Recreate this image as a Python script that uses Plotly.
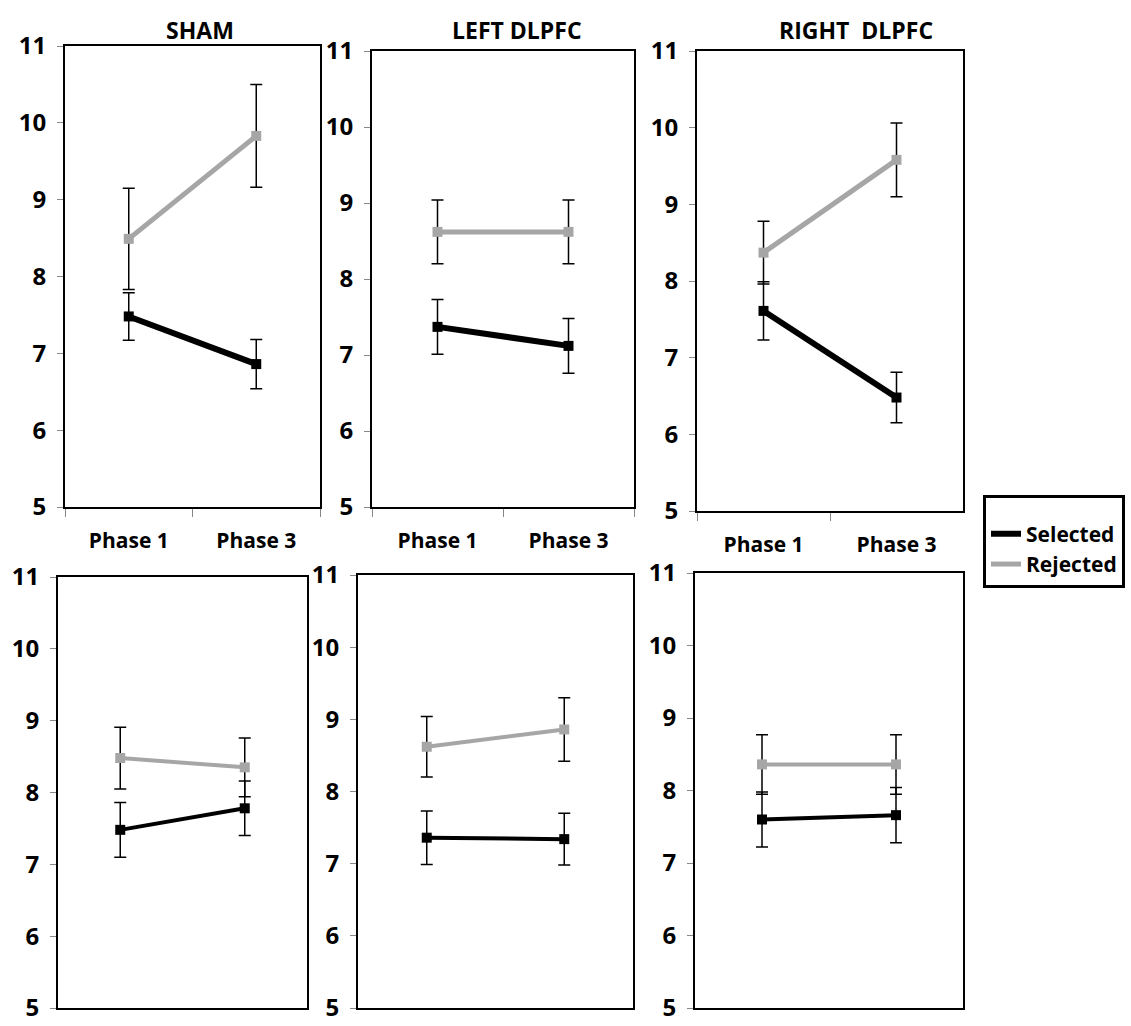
import plotly.graph_objects as go

# Category labels and panel titles
phases = ["Phase 1", "Phase 3"]
panel_titles = ["SHAM", "LEFT DLPFC", "RIGHT\u00a0 DLPFC"]

# Top row: mean scores and error half-widths per condition (SHAM, LEFT, RIGHT)
selected_row1 = [[7.48, 6.86], [7.37, 7.12], [7.61, 6.48]]
selected_row1_err = [[0.31, 0.32], [0.36, 0.36], [0.38, 0.33]]
rejected_row1 = [[8.49, 9.83], [8.62, 8.62], [8.37, 9.58]]
rejected_row1_err = [[0.66, 0.67], [0.42, 0.42], [0.41, 0.48]]

# Bottom row
selected_row2 = [[7.48, 7.78], [7.36, 7.34], [7.60, 7.66]]
selected_row2_err = [[0.38, 0.38], [0.37, 0.36], [0.38, 0.38]]
rejected_row2 = [[8.48, 8.35], [8.62, 8.86], [8.36, 8.36]]
rejected_row2_err = [[0.43, 0.41], [0.42, 0.44], [0.41, 0.41]]

y_ticks = [5, 6, 7, 8, 9, 10, 11]

W, H = 1131, 1026
SEL_COLOR = "black"
REJ_COLOR = "#a6a6a6"
FONT = "Open Sans"

# plot-area boxes in pixels: (left, right, top, bottom)
boxes = [
    (65, 320, 46, 507), (372, 634, 51, 507), (697, 963, 51, 511),
    (58, 307, 577, 1008), (358, 633, 575, 1008), (695, 963, 573, 1008),
]

rows = [
    (selected_row1, selected_row1_err, rejected_row1, rejected_row1_err, 6, 5),
    (selected_row2, selected_row2_err, rejected_row2, rejected_row2_err, 4, 4),
]

fig = go.Figure()
layout_axes = {}

for r, (sel, sel_e, rej, rej_e, sel_w, rej_w) in enumerate(rows):
    for c in range(3):
        k = r * 3 + c + 1
        xa = "x" if k == 1 else f"x{k}"
        ya = "y" if k == 1 else f"y{k}"
        first = (k == 1)

        # connecting lines (these carry the legend entries)
        fig.add_trace(go.Scatter(
            x=phases, y=sel[c], mode="lines", name="Selected",
            line=dict(color=SEL_COLOR, width=sel_w),
            showlegend=first, legendgroup="sel", xaxis=xa, yaxis=ya))
        fig.add_trace(go.Scatter(
            x=phases, y=rej[c], mode="lines", name="Rejected",
            line=dict(color=REJ_COLOR, width=rej_w),
            showlegend=first, legendgroup="rej", xaxis=xa, yaxis=ya))
        # markers with error bars
        fig.add_trace(go.Scatter(
            x=phases, y=rej[c], mode="markers", showlegend=False,
            marker=dict(symbol="square", size=10, color=REJ_COLOR),
            error_y=dict(type="data", array=rej_e[c], color="black",
                         thickness=1.5, width=6),
            xaxis=xa, yaxis=ya))
        fig.add_trace(go.Scatter(
            x=phases, y=sel[c], mode="markers", showlegend=False,
            marker=dict(symbol="square", size=10, color=SEL_COLOR),
            error_y=dict(type="data", array=sel_e[c], color="black",
                         thickness=1.5, width=6),
            xaxis=xa, yaxis=ya))

        left, right, top, bottom = boxes[k - 1]
        xkey = "xaxis" if k == 1 else f"xaxis{k}"
        ykey = "yaxis" if k == 1 else f"yaxis{k}"
        layout_axes[xkey] = dict(
            domain=[left / W, right / W], anchor=ya, automargin=False,
            type="category", categoryarray=phases, range=[-0.5, 1.5],
            tickson="boundaries",
            ticks="outside" if r == 0 else "", ticklen=8, tickwidth=1,
            tickcolor="#888888",
            showticklabels=(r == 0), ticklabelstandoff=14,
            tickfont=dict(family=FONT, size=21, color="black", weight="bold"),
            showgrid=False, zeroline=False,
            showline=True, linecolor="black", linewidth=2, mirror=True,
        )
        layout_axes[ykey] = dict(
            domain=[1 - bottom / H, 1 - top / H], anchor=xa, automargin=False,
            range=[5, 11], tickvals=y_ticks,
            ticks="outside", ticklen=6, tickwidth=1, tickcolor="#888888",
            ticklabelstandoff=6, ticklabeloverflow="allow",
            tickfont=dict(family=FONT, size=24, color="black", weight="bold"),
            showgrid=False, zeroline=False,
            showline=True, linecolor="black", linewidth=2, mirror=True,
        )

# condition titles over the top row
title_x = [200, 517, 856]
annotations = [
    dict(text=t, x=tx / W, y=1 - 30 / H, xref="paper", yref="paper",
         showarrow=False, xanchor="center", yanchor="middle",
         font=dict(family=FONT, size=23, color="black", weight="bold"))
    for t, tx in zip(panel_titles, title_x)
]

fig.update_layout(
    width=W, height=H,
    margin=dict(l=0, r=0, t=0, b=0, autoexpand=False),
    paper_bgcolor="white", plot_bgcolor="white",
    font=dict(family=FONT, color="black"),
    annotations=annotations,
    legend=dict(
        x=983 / W, y=1 - 495 / H, xanchor="left", yanchor="top",
        bordercolor="black", borderwidth=3, bgcolor="white",
        font=dict(family=FONT, size=21, color="black", weight="bold"),
        title=dict(text=" ", font=dict(size=12)),
        itemwidth=30, tracegroupgap=0,
    ),
    **layout_axes,
)

fig.write_html("out.html")
